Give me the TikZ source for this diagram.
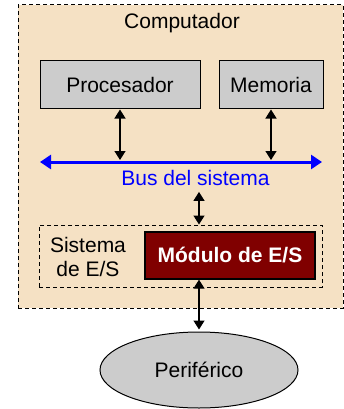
\documentclass[tikz,border=0pt]{standalone}
\usepackage{fontspec}
\setmainfont{Liberation Sans}
\usetikzlibrary{arrows.meta,shapes.geometric}
\definecolor{compfill}{HTML}{F5E1C4}
\definecolor{boxgray}{HTML}{CCCCCC}
\definecolor{modred}{HTML}{800000}
\tikzset{
  txt/.style={font=\fontsize{21}{24}\selectfont, inner sep=0pt},
  unit/.style={draw, fill=boxgray, line width=1pt, minimum height=48pt, txt},
  link/.style={draw, line width=1.3pt, {Triangle[length=9pt,width=11pt]}-{Triangle[length=9pt,width=11pt]}},
  buslink/.style={draw, blue, line width=3pt, {Triangle[length=11pt,width=14pt]}-{Triangle[length=11pt,width=14pt]}},
  dashbox/.style={draw, line width=1pt, dash pattern=on 4pt off 3pt, inner sep=0pt}
}
\begin{document}
\begin{tikzpicture}[x=1pt,y=-1pt]
\useasboundingbox (0,0) rectangle (344,409);
% computador
\node[dashbox, fill=compfill, minimum width=325pt, minimum height=303pt] (Comp) at (180.5,156.5) {};
\node[txt] (CompTxt) at (182,23) {Computador};
\node[unit, minimum width=160pt] (Proc) at (120,85) {Procesador};
\node[unit, minimum width=104pt] (Mem) at (271,85) {Memoria};
% bus
\coordinate (BusL) at (40,162);
\coordinate (BusR) at (322,162);
\path[buslink] (BusL) -- (BusR);
\node[txt, blue] (BusTxt) at (195.5,178) {Bus del sistema};
% sistema de E/S
\node[dashbox, minimum width=283pt, minimum height=62pt] (Sis) at (180.5,256) {};
\node[txt, align=center] (SisTxt) at (88,257) {Sistema\\de E/S};
\node[draw, line width=1.3pt, fill=modred, text=white, minimum width=170pt, minimum height=47pt, inner sep=0pt, font=\fontsize{21}{24}\selectfont\bfseries] (Mod) at (230,255.5) {Módulo de E/S};
\node[ellipse, draw, fill=boxgray, line width=1pt, minimum width=198pt, minimum height=76pt, txt] (Per) at (199,370) {Periférico};
% enlaces
\path[link] (Proc.south) -- ([yshift=2pt]Proc.south |- BusL);
\path[link] (Mem.south) -- ([yshift=2pt]Mem.south |- BusL);
\path[link] ([yshift=-6pt]BusTxt.south -| Per.north) -- (Sis.north -| Per.north);
\path[link] (Mod.south -| Per.north) -- ([yshift=2pt]Per.north);
\end{tikzpicture}
\end{document}
